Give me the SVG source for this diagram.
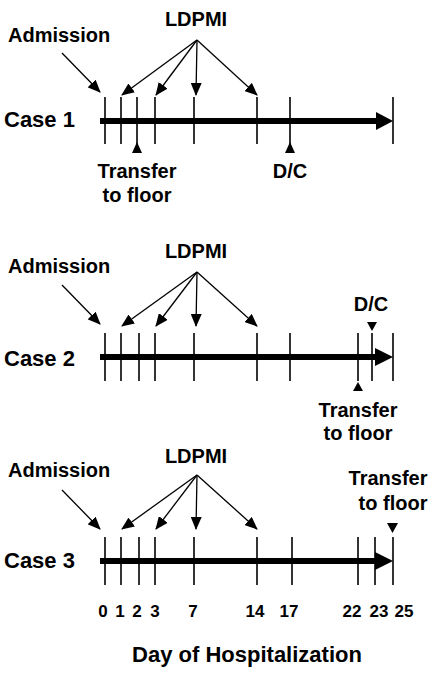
<svg xmlns="http://www.w3.org/2000/svg" width="447" height="678" viewBox="0 0 447 678">
<defs>
<marker id="ah" markerUnits="userSpaceOnUse" markerWidth="13" markerHeight="11" refX="12" refY="5.5" orient="auto">
<path d="M0,0 L13,5.5 L0,11 Z" fill="#000"/>
</marker>
<style>
text{font-family:"Liberation Sans",Arial,sans-serif;font-weight:bold;fill:#000}
.lbl{font-size:20px}
.case{font-size:22px}
.day{font-size:17px;text-anchor:middle}
.tick{stroke:#000;stroke-width:1.6}
.main{stroke:#000;stroke-width:6}
.thin{stroke:#000;stroke-width:1.3;fill:none;marker-end:url(#ah)}
.mid{text-anchor:middle}
</style>
</defs>
<rect width="447" height="678" fill="#fff"/>

<g id="case1">
<text class="case" x="4" y="127">Case 1</text>
<text class="lbl" x="8" y="42">Admission</text>
<text class="lbl mid" x="196" y="26">LDPMI</text>
<text class="lbl mid" x="137" y="178">Transfer</text>
<text class="lbl mid" x="137" y="202">to floor</text>
<text class="lbl mid" x="290" y="178">D/C</text>
<line class="main" x1="100" y1="121" x2="378" y2="121"/>
<polygon points="376,112 393,121 376,130" fill="#000"/>
<g class="tick">
<line x1="105" y1="97" x2="105" y2="144"/>
<line x1="121" y1="97" x2="121" y2="144"/>
<line x1="137" y1="97" x2="137" y2="144"/>
<line x1="155" y1="97" x2="155" y2="144"/>
<line x1="194" y1="97" x2="194" y2="144"/>
<line x1="257" y1="97" x2="257" y2="144"/>
<line x1="290" y1="97" x2="290" y2="144"/>
<line x1="393" y1="97" x2="393" y2="144"/>
</g>
<polygon points="137,142 142,153 132,153" fill="#000"/>
<polygon points="290,142 295,153 285,153" fill="#000"/>
</g>

<g id="case2">
<text class="case" x="4" y="366">Case 2</text>
<text class="lbl" x="8" y="273">Admission</text>
<text class="lbl mid" x="196" y="258">LDPMI</text>
<text class="lbl mid" x="371" y="311">D/C</text>
<text class="lbl mid" x="358" y="417">Transfer</text>
<text class="lbl mid" x="358" y="440">to floor</text>
<line class="main" x1="100" y1="357" x2="378" y2="357"/>
<polygon points="375,348 393,357 375,366" fill="#000"/>
<g class="tick">
<line x1="105" y1="333" x2="105" y2="381"/>
<line x1="121" y1="333" x2="121" y2="381"/>
<line x1="139" y1="333" x2="139" y2="381"/>
<line x1="155" y1="333" x2="155" y2="381"/>
<line x1="194" y1="333" x2="194" y2="381"/>
<line x1="257" y1="333" x2="257" y2="381"/>
<line x1="290" y1="333" x2="290" y2="381"/>
<line x1="358" y1="333" x2="358" y2="381"/>
<line x1="372" y1="333" x2="372" y2="381"/>
<line x1="393" y1="333" x2="393" y2="381"/>
</g>
<polygon points="367,322 377,322 372,331" fill="#000"/>
<polygon points="358,382 363,391 353,391" fill="#000"/>
</g>

<g id="case3">
<text class="case" x="4" y="568">Case 3</text>
<text class="lbl" x="8" y="477">Admission</text>
<text class="lbl mid" x="196" y="463">LDPMI</text>
<text class="lbl mid" x="388" y="485">Transfer</text>
<text class="lbl mid" x="393" y="510">to floor</text>
<line class="main" x1="100" y1="561" x2="378" y2="561"/>
<polygon points="375,552 393,561 375,570" fill="#000"/>
<g class="tick">
<line x1="105" y1="537" x2="105" y2="585"/>
<line x1="121" y1="537" x2="121" y2="585"/>
<line x1="139" y1="537" x2="139" y2="585"/>
<line x1="155" y1="537" x2="155" y2="585"/>
<line x1="194" y1="537" x2="194" y2="585"/>
<line x1="257" y1="537" x2="257" y2="585"/>
<line x1="292" y1="537" x2="292" y2="585"/>
<line x1="358" y1="537" x2="358" y2="585"/>
<line x1="375" y1="537" x2="375" y2="585"/>
<line x1="393" y1="537" x2="393" y2="585"/>
</g>
<polygon points="387,523 398,523 392.5,533" fill="#000"/>
</g>

<g id="axis">
<text class="day" x="103" y="617">0</text>
<text class="day" x="120" y="617">1</text>
<text class="day" x="137" y="617">2</text>
<text class="day" x="155" y="617">3</text>
<text class="day" x="193" y="617">7</text>
<text class="day" x="255" y="617">14</text>
<text class="day" x="289" y="617">17</text>
<text class="day" x="352" y="617">22</text>
<text class="day" x="379" y="617">23</text>
<text class="day" x="404" y="617">25</text>
<text class="mid" x="247" y="662" style="font-size:22px">Day of Hospitalization</text>
</g>

<g id="connectors">
<line class="thin" x1="62" y1="53" x2="100" y2="92"/>
<line class="thin" x1="197" y1="40" x2="122" y2="95"/>
<line class="thin" x1="197" y1="40" x2="156" y2="95"/>
<line class="thin" x1="197" y1="40" x2="196" y2="95"/>
<line class="thin" x1="197" y1="40" x2="257" y2="95"/>

<line class="thin" x1="62" y1="285" x2="100" y2="324"/>
<line class="thin" x1="197" y1="272" x2="122" y2="326"/>
<line class="thin" x1="197" y1="272" x2="156" y2="326"/>
<line class="thin" x1="197" y1="272" x2="196" y2="326"/>
<line class="thin" x1="197" y1="272" x2="257" y2="326"/>

<line class="thin" x1="62" y1="490" x2="100" y2="529"/>
<line class="thin" x1="197" y1="475" x2="122" y2="529"/>
<line class="thin" x1="197" y1="475" x2="156" y2="529"/>
<line class="thin" x1="197" y1="475" x2="196" y2="529"/>
<line class="thin" x1="197" y1="475" x2="257" y2="529"/>
</g>
</svg>
